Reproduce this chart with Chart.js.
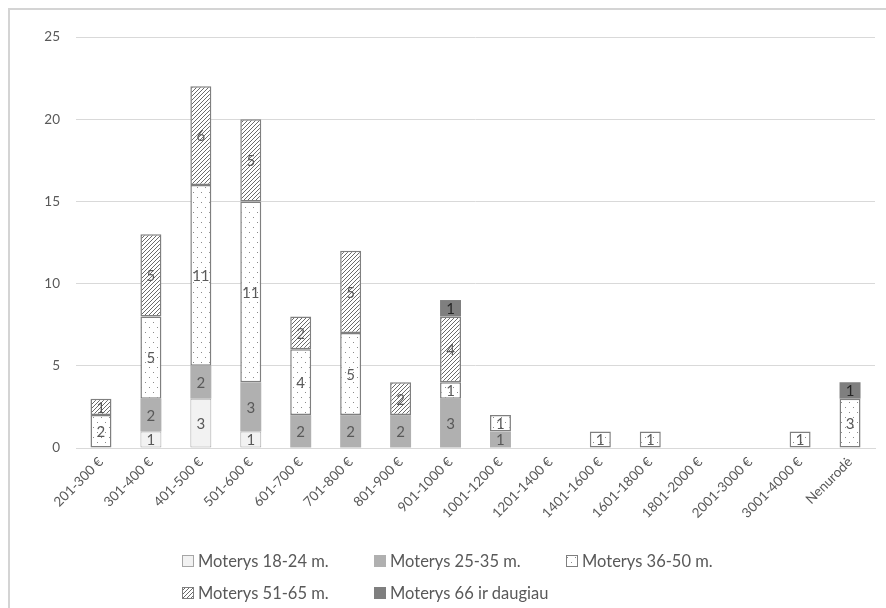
<!DOCTYPE html>
<html>
<head>
<meta charset="utf-8">
<script src="https://cdn.jsdelivr.net/npm/chart.js@4/dist/chart.umd.min.js"></script>
<style>
  html, body { margin: 0; padding: 0; background: #fff; }
  #wrap { position: relative; width: 886px; height: 608px; overflow: hidden; }
  #frame { position: absolute; left: 8px; top: 8px; width: 900px; height: 620px;
           border-left: 2px solid #d4d4d4; border-top: 2px solid #d4d4d4; }
  canvas#myChart { position: absolute; left: 0; top: 0; }
  .lg { position: absolute; font-family: Lato, "Open Sans", sans-serif; font-size: 16.5px;
        color: #595959; display: flex; align-items: center; white-space: nowrap; }
  .lg canvas { margin-right: 4px; }
</style>
</head>
<body>
<div id="wrap">
  <div id="frame"></div>
  <canvas id="myChart" width="886" height="608"></canvas>
</div>
<script>
const categories = ['201-300 €', '301-400 €', '401-500 €', '501-600 €', '601-700 €', '701-800 €',
  '801-900 €', '901-1000 €', '1001-1200 €', '1201-1400 €', '1401-1600 €', '1601-1800 €',
  '1801-2000 €', '2001-3000 €', '3001-4000 €', 'Nenurodė'];

const seriesNames = ['Moterys 18-24 m.', 'Moterys 25-35 m.', 'Moterys 36-50 m.',
  'Moterys 51-65 m.', 'Moterys 66 ir daugiau'];

const age18_24 = [0, 1, 3, 1, 0, 0, 0, 0, 0, 0, 0, 0, 0, 0, 0, 0];
const age25_35 = [0, 2, 2, 3, 2, 2, 2, 3, 1, 0, 0, 0, 0, 0, 0, 0];
const age36_50 = [2, 5, 11, 11, 4, 5, 0, 1, 1, 0, 1, 1, 0, 0, 1, 3];
const age51_65 = [1, 5, 6, 5, 2, 5, 2, 4, 0, 0, 0, 0, 0, 0, 0, 0];
const age66 = [0, 0, 0, 0, 0, 0, 0, 1, 0, 0, 0, 0, 0, 0, 0, 1];

const yTicks = [0, 5, 10, 15, 20, 25];

// fill patterns
function dotTile() {
  const c = document.createElement('canvas');
  c.width = 8; c.height = 10;
  const g = c.getContext('2d');
  g.fillStyle = '#fff'; g.fillRect(0, 0, 8, 10);
  g.fillStyle = '#8a8a8a';
  g.fillRect(1, 2, 1, 1);
  g.fillRect(5, 7, 1, 1);
  return c;
}
function hatchTile() {
  const c = document.createElement('canvas');
  c.width = 4; c.height = 4;
  const g = c.getContext('2d');
  g.fillStyle = '#fff'; g.fillRect(0, 0, 4, 4);
  g.fillStyle = '#6a6a6a';
  for (let i = 0; i < 4; i++) g.fillRect(i, 3 - i, 1, 1);
  return c;
}

const ctx = document.getElementById('myChart').getContext('2d');
const dots = ctx.createPattern(dotTile(), 'repeat');
const hatch = ctx.createPattern(hatchTile(), 'repeat');

const styles = [
  { bg: '#f2f2f2', border: '#a6a6a6', bw: 1, tile: null },
  { bg: '#b0b0b0', border: '#b0b0b0', bw: 0, tile: null },
  { bg: dots, border: '#7f7f7f', bw: 1.5, tile: dotTile },
  { bg: hatch, border: '#7f7f7f', bw: 1.5, tile: hatchTile },
  { bg: '#7f7f7f', border: '#7f7f7f', bw: 0, tile: null }
];
const values = [age18_24, age25_35, age36_50, age51_65, age66];

// numbers inside the segments
const segmentLabels = {
  id: 'segmentLabels',
  afterDatasetsDraw(chart) {
    const c = chart.ctx;
    c.save();
    c.font = '15px Lato, "Open Sans", sans-serif';
    c.textAlign = 'center';
    c.textBaseline = 'middle';
    chart.data.datasets.forEach((ds, i) => {
      c.fillStyle = i === 4 ? '#262626' : '#595959';
      chart.getDatasetMeta(i).data.forEach((bar, j) => {
        const v = ds.data[j];
        if (!v) return;
        c.fillText(String(v), bar.x, (bar.y + bar.base) / 2 + 1);
      });
    });
    c.restore();
  }
};

new Chart(ctx, {
  type: 'bar',
  data: {
    labels: categories,
    datasets: seriesNames.map((name, i) => ({
      label: name,
      data: values[i],
      backgroundColor: styles[i].bg,
      borderColor: styles[i].border,
      borderWidth: styles[i].bw,
      borderSkipped: false,
      barPercentage: 0.42,
      categoryPercentage: 1
    }))
  },
  options: {
    responsive: false,
    animation: false,
    layout: { padding: { top: 37, right: 11, left: 0, bottom: 0 } },
    plugins: { legend: { display: false }, tooltip: { enabled: false } },
    scales: {
      x: {
        stacked: true,
        afterFit(scale) { scale.height = 160; },
        grid: { display: false, drawTicks: false },
        border: { color: '#d9d9d9', width: 1 },
        ticks: {
          color: '#595959',
          font: { family: 'Lato, "Open Sans", sans-serif', size: 13.5 },
          maxRotation: 45, minRotation: 45, autoSkip: false, padding: 6
        }
      },
      y: {
        stacked: true,
        min: 0, max: 25,
        afterFit(scale) { scale.width = 76; },
        afterBuildTicks(scale) { scale.ticks = yTicks.map(v => ({ value: v })); },
        grid: { color: '#d9d9d9', drawTicks: false },
        border: { display: false },
        ticks: {
          color: '#595959',
          font: { family: 'Lato, "Open Sans", sans-serif', size: 13.5 },
          padding: 16
        }
      }
    }
  },
  plugins: [segmentLabels]
});

// legend laid out in a grid like the original
const legendPos = [[182, 551], [374, 551], [566, 551], [182, 583], [374, 583]];
seriesNames.forEach((name, i) => {
  const item = document.createElement('div');
  item.className = 'lg';
  item.style.left = legendPos[i][0] + 'px';
  item.style.top = legendPos[i][1] + 'px';
  const sw = document.createElement('canvas');
  sw.width = 12; sw.height = 12;
  const g = sw.getContext('2d');
  g.fillStyle = styles[i].tile ? g.createPattern(styles[i].tile(), 'repeat') : styles[i].bg;
  g.fillRect(0, 0, 12, 12);
  if (styles[i].bw) {
    g.strokeStyle = styles[i].border;
    g.lineWidth = 1;
    g.strokeRect(0.5, 0.5, 11, 11);
  }
  item.appendChild(sw);
  item.appendChild(document.createTextNode(name));
  document.getElementById('wrap').appendChild(item);
});
</script>
</body>
</html>
